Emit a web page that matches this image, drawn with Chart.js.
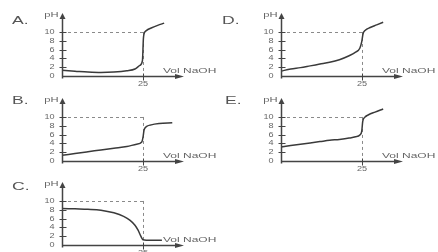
<!DOCTYPE html>
<html>
<head>
<meta charset="utf-8">
<script src="https://cdn.jsdelivr.net/npm/chart.js@4.4.1/dist/chart.umd.min.js"></script>
<style>
  html, body { margin: 0; padding: 0; background: #fff; overflow: hidden; }
  body { width: 438px; height: 252px; position: relative; }
  .panel { position: absolute; width: 219px; height: 92px; }
  canvas { filter: blur(0.5px); }
</style>
</head>
<body>
<div class="panel" style="left:0;top:0"><canvas id="chartA" width="219" height="92"></canvas></div>
<div class="panel" style="left:219px;top:0"><canvas id="chartD" width="219" height="92"></canvas></div>
<div class="panel" style="left:0;top:85px"><canvas id="chartB" width="219" height="92"></canvas></div>
<div class="panel" style="left:219px;top:85px"><canvas id="chartE" width="219" height="92"></canvas></div>
<div class="panel" style="left:0;top:169px"><canvas id="chartC" width="219" height="92"></canvas></div>
<script>
// tick labels and reference lines
const yTicks = [0, 2, 4, 6, 8, 10];
const xTicks = [25];
const refPH = 10;
const refVol = 25;

// titration curves (vol NaOH -> pH)
const volA = [0, 4, 8, 12, 16, 20, 22.5, 24, 24.8, 25.1, 25.3, 26, 27.5, 29.5, 31.5];
const phA  = [1.3, 1.1, 0.9, 0.8, 0.9, 1.2, 1.6, 2.4, 3.5, 8.5, 9.6, 10.3, 10.9, 11.5, 12.0];

const volD = [0, 3, 6, 9, 12, 15, 18, 21, 23, 24.3, 24.9, 25.3, 26, 27.5, 29.5, 31.5];
const phD  = [1.1, 1.6, 1.9, 2.3, 2.7, 3.1, 3.7, 4.6, 5.4, 6.3, 7.8, 9.6, 10.4, 11.0, 11.6, 12.2];

const volB = [0, 4, 8, 12, 16, 20, 23, 24.6, 25, 25.3, 26, 27.5, 30, 34];
const phB  = [1.3, 1.7, 2.1, 2.5, 2.9, 3.3, 3.8, 4.3, 5.5, 7.0, 7.8, 8.2, 8.5, 8.7];

const volE = [0, 3, 6, 9, 12, 15, 18, 21, 23, 24.3, 24.9, 25.2, 25.8, 27, 29, 31.5];
const phE  = [3.2, 3.5, 3.8, 4.1, 4.4, 4.7, 4.9, 5.2, 5.5, 5.9, 6.8, 9.0, 9.9, 10.5, 11.1, 11.8];

const volC = [0, 4, 8, 12, 16, 19, 21, 22.5, 23.5, 24.3, 25, 26, 28, 30.8];
const phC  = [8.3, 8.2, 8.1, 7.9, 7.3, 6.5, 5.6, 4.5, 3.3, 2.0, 1.2, 1.1, 1.1, 1.1];

const panels = [
  { id: 'chartA', title: 'A.', vol: volA, ph: phA, tx: 12, ty: 24 },
  { id: 'chartD', title: 'D.', vol: volD, ph: phD, tx: 3, ty: 24 },
  { id: 'chartB', title: 'B.', vol: volB, ph: phB, tx: 12, ty: 19 },
  { id: 'chartE', title: 'E.', vol: volE, ph: phE, tx: 6, ty: 19 },
  { id: 'chartC', title: 'C.', vol: volC, ph: phC, tx: 12, ty: 21 }
];

function drawText(ctx, text, x, y, sx, align) {
  ctx.save();
  ctx.translate(x, y);
  ctx.scale(sx, 1);
  ctx.textAlign = align;
  ctx.fillText(text, 0, 0);
  ctx.restore();
}

// axes with arrows, crossing ticks, dashed guides and labels
const axesPlugin = {
  id: 'axesPlugin',
  beforeDatasetsDraw(chart) {
    const ctx = chart.ctx;
    const xs = chart.scales.x, ys = chart.scales.y;
    const x0 = xs.getPixelForValue(0), y0 = ys.getPixelForValue(0);
    const xr = xs.getPixelForValue(refVol), yr = ys.getPixelForValue(refPH);
    ctx.save();
    ctx.strokeStyle = '#8a8a8a';
    ctx.lineWidth = 1;
    ctx.setLineDash([3, 3]);
    ctx.beginPath();
    ctx.moveTo(x0, Math.round(yr) + 0.5);
    ctx.lineTo(xr, Math.round(yr) + 0.5);
    ctx.moveTo(Math.round(xr) + 0.5, yr);
    ctx.lineTo(Math.round(xr) + 0.5, y0);
    ctx.stroke();
    ctx.restore();
  },
  afterDraw(chart, args, opts) {
    const ctx = chart.ctx;
    const area = chart.chartArea;
    const xs = chart.scales.x, ys = chart.scales.y;
    const x0 = Math.round(xs.getPixelForValue(0)) + 0.5;
    const y0 = Math.round(ys.getPixelForValue(0)) + 0.5;
    ctx.save();
    ctx.strokeStyle = '#444';
    ctx.fillStyle = '#444';
    ctx.lineWidth = 1.5;
    ctx.beginPath();
    ctx.moveTo(x0, y0 + 2);
    ctx.lineTo(x0, area.top + 4);
    ctx.moveTo(x0, y0);
    ctx.lineTo(area.right - 4, y0);
    ctx.stroke();
    // arrowheads
    ctx.beginPath();
    ctx.moveTo(x0, area.top);
    ctx.lineTo(x0 - 3, area.top + 6);
    ctx.lineTo(x0 + 3, area.top + 6);
    ctx.closePath();
    ctx.fill();
    ctx.beginPath();
    ctx.moveTo(area.right + 2, y0);
    ctx.lineTo(area.right - 7, y0 - 2.5);
    ctx.lineTo(area.right - 7, y0 + 2.5);
    ctx.closePath();
    ctx.fill();
    // crossing ticks
    ctx.lineWidth = 1;
    ctx.beginPath();
    yTicks.forEach(v => {
      if (v === 0) return;
      const y = Math.round(ys.getPixelForValue(v)) + 0.5;
      ctx.moveTo(x0 - 3, y);
      ctx.lineTo(x0 + 4, y);
    });
    xTicks.forEach(v => {
      const x = Math.round(xs.getPixelForValue(v)) + 0.5;
      ctx.moveTo(x, y0 - 3);
      ctx.lineTo(x, y0 + 4);
    });
    ctx.stroke();
    // tick labels
    ctx.fillStyle = '#666';
    ctx.textBaseline = 'middle';
    ctx.font = '7px "Liberation Sans", Arial, sans-serif';
    yTicks.forEach(v => {
      drawText(ctx, String(v), x0 - 8, ys.getPixelForValue(v), 1.3, 'right');
    });
    ctx.textBaseline = 'top';
    xTicks.forEach(v => {
      drawText(ctx, String(v), xs.getPixelForValue(v), y0 + 4, 1.3, 'center');
    });
    // axis titles
    ctx.textBaseline = 'alphabetic';
    ctx.font = '7px "Liberation Sans", Arial, sans-serif';
    drawText(ctx, 'pH', x0 - 4, area.top + 4, 1.6, 'right');
    ctx.font = '8px "Liberation Sans", Arial, sans-serif';
    drawText(ctx, 'Vol NaOH', 163, y0 - 4, 1.5, 'left');
    // panel letter
    ctx.fillStyle = '#555';
    ctx.font = '11px "Liberation Sans", Arial, sans-serif';
    drawText(ctx, opts.title, opts.tx, opts.ty, 1.6, 'left');
    ctx.restore();
  }
};

panels.forEach(p => {
  new Chart(document.getElementById(p.id), {
    type: 'line',
    data: {
      datasets: [{
        data: p.vol.map((v, i) => ({ x: v, y: p.ph[i] })),
        borderColor: '#3a3a3a',
        borderWidth: 1.5,
        pointRadius: 0,
        fill: false,
        cubicInterpolationMode: 'monotone'
      }]
    },
    options: {
      responsive: false,
      animation: false,
      layout: { padding: { left: 62, right: 37, top: 13, bottom: 16 } },
      scales: {
        x: { type: 'linear', min: 0, max: 37, display: false },
        y: { type: 'linear', min: 0, max: 14.3, display: false }
      },
      plugins: {
        legend: { display: false },
        tooltip: { enabled: false },
        axesPlugin: { title: p.title, tx: p.tx, ty: p.ty }
      }
    },
    plugins: [axesPlugin]
  });
});
</script>
</body>
</html>
